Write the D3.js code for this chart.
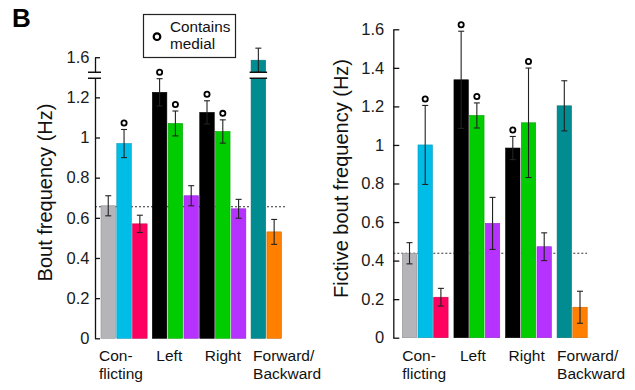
<!DOCTYPE html>
<html>
<head>
<meta charset="utf-8">
<script src="https://cdn.jsdelivr.net/npm/d3@7"></script>
<style>
  html, body { margin: 0; padding: 0; background: #fff; }
  svg { display: block; font-family: "Liberation Sans", Arial, Helvetica, sans-serif; }
</style>
</head>
<body>
<svg id="chart" width="635" height="390"></svg>
<script>
// ---------------- data ----------------
const groups = ["Conflicting", "Left", "Right", "Forward/Backward"];
const groupLabels = [["Con-", "flicting"], ["Left"], ["Right"], ["Forward/", "Backward"]];
const barGroup = [0, 0, 0, 1, 1, 1, 2, 2, 2, 3, 3];

const boutFreq   = [0.66, 0.97, 0.57, 1.225, 1.07, 0.71, 1.125, 1.03, 0.645, 1.585, 0.53];
const boutErr    = [0.05, 0.07, 0.043, 0.068, 0.062, 0.05, 0.058, 0.058, 0.047, 0.06, 0.062];
const boutMedial = [false, true, false, true, true, false, true, true, false, false, false];
const boutBaseline = 0.655;
const boutTicks  = [0, 0.2, 0.4, 0.6, 0.8, 1, 1.2, 1.6];

const fictiveFreq   = [0.438, 1.0, 0.21, 1.338, 1.153, 0.593, 0.984, 1.115, 0.472, 1.203, 0.158];
const fictiveErr    = [0.055, 0.205, 0.046, 0.252, 0.065, 0.135, 0.06, 0.284, 0.072, 0.13, 0.083];
const fictiveMedial = [false, true, false, true, true, false, true, true, false, false, false];
const fictiveBaseline = 0.438;
const fictiveTicks  = [0, 0.2, 0.4, 0.6, 0.8, 1, 1.2, 1.4, 1.6];

const boutTitle = "Bout frequency (Hz)";
const fictiveTitle = "Fictive bout frequency (Hz)";
const legendLines = ["Contains", "medial"];
const panelLetter = "B";

// ---------------- styles ----------------
const barColors = ["#b4b4b9", "#00bde8", "#ff0060", "#000000", "#00cc00", "#b532ff",
                   "#000000", "#00cc00", "#b532ff", "#008c91", "#ff7f00"];
const FONT = "'Liberation Sans', Arial, Helvetica, sans-serif";

const svg = d3.select("#chart");

// ---------------- scales ----------------
const lin = d3.scaleLinear().domain([0, 1.4]).range([338.3, 57.2]);
const breakLo = 1.31, breakHi = 1.51;
const yLeft = d3.scaleLinear()
  .domain([0, breakLo, breakHi, 1.6])
  .range([lin(0), lin(breakLo), lin(breakLo), lin(1.4)]);
const yRight = d3.scaleLinear().domain([0, 1.6]).range([337.7, 29.3]);

function drawPanel(cfg) {
  const g = svg.append("g");
  const y = cfg.y;
  // slot positions with group gaps
  const slotX = d3.scaleLinear().domain([0, 1]).range([cfg.firstBar, cfg.firstBar + cfg.step]);
  const cumGap = [0];
  cfg.gaps.forEach((gp, i) => cumGap.push(cumGap[i] + gp));
  const bx = i => slotX(i + cumGap[barGroup[i]]);

  const bars = cfg.values.map((v, i) => ({ v, e: cfg.err[i], m: cfg.medial[i], c: barColors[i], i }));

  // dashed baseline (behind bars)
  g.append("line")
    .attr("x1", cfg.axisX).attr("x2", cfg.dashEnd)
    .attr("y1", y(cfg.baseline)).attr("y2", y(cfg.baseline))
    .attr("stroke", "#333").attr("stroke-width", 1.1)
    .attr("stroke-dasharray", "2,2");

  // bars
  g.selectAll("rect.bar").data(bars).join("rect")
    .attr("class", "bar")
    .attr("x", d => bx(d.i))
    .attr("width", cfg.barW)
    .attr("y", d => y(d.v))
    .attr("height", d => y(0) - y(d.v))
    .attr("fill", d => d.c)
    .attr("stroke", d => d3.color(d.c).darker(0.6))
    .attr("stroke-width", 0.6);

  // error bars
  const eb = g.selectAll("g.err").data(bars).join("g").attr("class", "err")
    .attr("stroke", "#222").attr("stroke-width", 1.1);
  eb.append("line")
    .attr("x1", d => bx(d.i) + cfg.barW / 2).attr("x2", d => bx(d.i) + cfg.barW / 2)
    .attr("y1", d => y(d.v - d.e)).attr("y2", d => y(d.v + d.e));
  eb.append("line")
    .attr("x1", d => bx(d.i) + cfg.barW / 2 - 3).attr("x2", d => bx(d.i) + cfg.barW / 2 + 3)
    .attr("y1", d => y(d.v + d.e)).attr("y2", d => y(d.v + d.e));
  eb.append("line")
    .attr("x1", d => bx(d.i) + cfg.barW / 2 - 3).attr("x2", d => bx(d.i) + cfg.barW / 2 + 3)
    .attr("y1", d => y(d.v - d.e)).attr("y2", d => y(d.v - d.e));

  // medial markers
  g.selectAll("circle.med").data(bars.filter(d => d.m)).join("circle")
    .attr("class", "med")
    .attr("cx", d => bx(d.i) + cfg.barW / 2)
    .attr("cy", d => y(d.v + d.e) - 6.5)
    .attr("r", 2.6)
    .attr("fill", "#fff").attr("stroke", "#000").attr("stroke-width", 1.8);

  // axis
  const axis = d3.axisLeft(y).tickValues(cfg.ticks).tickFormat(d3.format("~g"))
    .tickSize(-cfg.tickLen).tickSizeOuter(0).tickPadding(cfg.pad);
  const ag = g.append("g").attr("transform", `translate(${cfg.axisX},0)`).call(axis);
  ag.select(".domain").attr("stroke", "#111").attr("stroke-width", 1.3);
  ag.selectAll(".tick line").attr("stroke", "#111").attr("stroke-width", 1.3);
  ag.selectAll(".tick text").attr("font-size", 16.5).attr("font-family", FONT).attr("fill", "#1a1a1a");

  // axis break
  if (cfg.brk) {
    const yb = y(breakLo);
    const drawBreak = (x1, x2) => {
      g.append("rect").attr("x", x1).attr("width", x2 - x1)
        .attr("y", yb - 3).attr("height", 6).attr("fill", "#fff");
      [yb - 3, yb + 3].forEach(yy => g.append("line")
        .attr("x1", x1).attr("x2", x2).attr("y1", yy).attr("y2", yy)
        .attr("stroke", "#111").attr("stroke-width", 1.5));
    };
    drawBreak(cfg.axisX - 7, cfg.axisX + 6);
    bars.filter(d => d.v > breakHi).forEach(d => drawBreak(bx(d.i) - 1.5, bx(d.i) + cfg.barW + 1.5));
  }

  // category labels
  groups.forEach((gn, gi) => {
    const first = barGroup.indexOf(gi);
    const t = g.append("text")
      .attr("x", bx(first) + cfg.labelDx[gi]).attr("y", 361)
      .attr("font-size", 15.5).attr("font-family", FONT).attr("fill", "#111");
    groupLabels[gi].forEach((ln, li) => t.append("tspan")
      .attr("x", bx(first) + cfg.labelDx[gi]).attr("dy", li === 0 ? 0 : 17.5).text(ln));
  });

  // y title
  g.append("text")
    .attr("transform", `translate(${cfg.titleX},${cfg.titleY}) rotate(-90)`)
    .attr("text-anchor", "middle")
    .attr("font-size", 20).attr("font-family", FONT).attr("fill", "#111")
    .text(cfg.title);
}

drawPanel({
  y: yLeft, values: boutFreq, err: boutErr, medial: boutMedial, baseline: boutBaseline,
  ticks: boutTicks, axisX: 95, firstBar: 101, step: 15.8, barW: 14.5, gaps: [0.25, 0, 0.25],
  dashEnd: 287, tickLen: 5, pad: 5.5, brk: true, labelDx: [-2, 4, 5, 2],
  title: boutTitle, titleX: 52, titleY: 192.5
});
drawPanel({
  y: yRight, values: fictiveFreq, err: fictiveErr, medial: fictiveMedial, baseline: fictiveBaseline,
  ticks: fictiveTicks, axisX: 393.3, firstBar: 402.3, step: 15.7, barW: 14.4, gaps: [0.29, 0.29, 0.28],
  dashEnd: 587, tickLen: 6, pad: 9, brk: false, labelDx: [0, 6, 3, 0],
  title: fictiveTitle, titleX: 348, titleY: 178.5
});

// panel letter
svg.append("text").attr("x", 12).attr("y", 27)
  .attr("font-size", 26).attr("font-weight", "bold").attr("font-family", FONT).attr("fill", "#000")
  .text(panelLetter);

// legend
const lg = svg.append("g");
lg.append("rect").attr("x", 143.5).attr("y", 14.5).attr("width", 92).attr("height", 43)
  .attr("fill", "#fff").attr("stroke", "#222").attr("stroke-width", 1.2);
lg.append("circle").attr("cx", 157).attr("cy", 36.7).attr("r", 3.3)
  .attr("fill", "#fff").attr("stroke", "#000").attr("stroke-width", 2.2);
legendLines.forEach((t, i) => lg.append("text")
  .attr("x", 170).attr("y", 31.5 + i * 17.8)
  .attr("font-size", 15.3).attr("font-family", FONT).attr("fill", "#111").text(t));
</script>
</body>
</html>
